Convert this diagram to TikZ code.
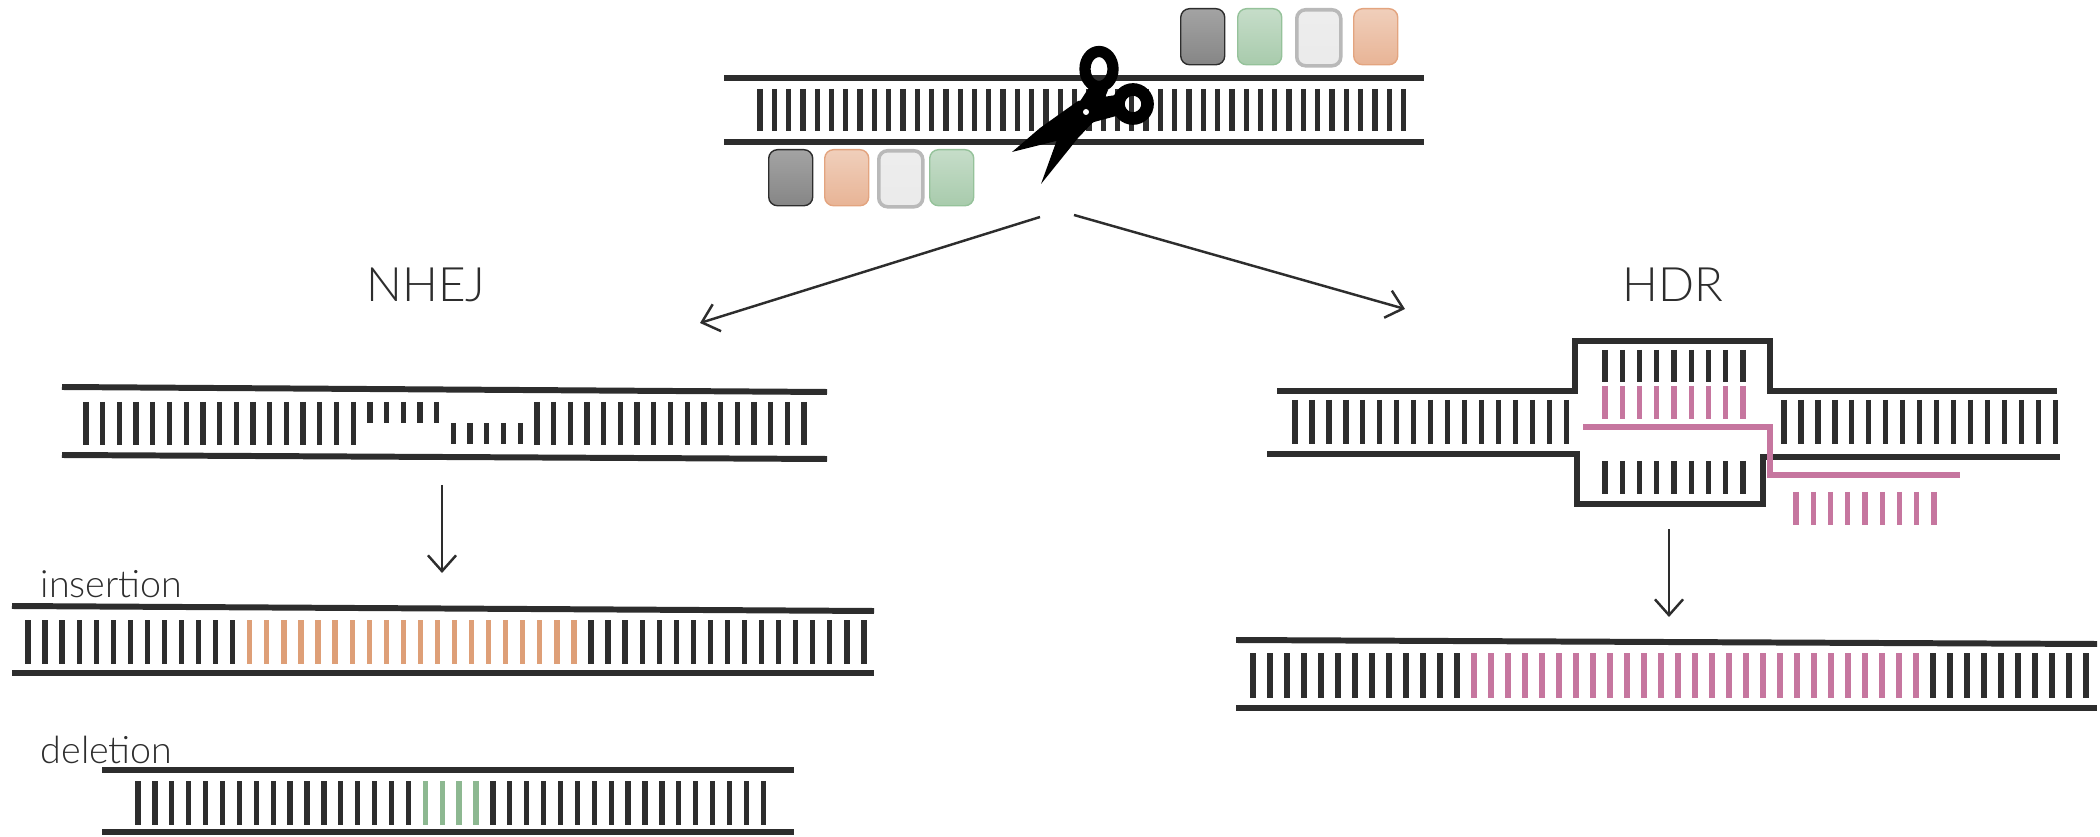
\documentclass[tikz,border=0pt]{standalone}
\usepackage{fontspec}
\setmainfont{Lato Light}
\usetikzlibrary{arrows.meta}
\definecolor{dna}{HTML}{2D2D2D}
\definecolor{ins}{HTML}{DE9F77}
\definecolor{donor}{HTML}{C6769F}
\definecolor{del}{HTML}{8DB891}
\begin{document}
\begin{tikzpicture}[
x=0.01cm,y=-0.01cm,
strand/.style={line width=1.7pt,draw=dna},
base/.style={line width=1.5pt,draw=dna},
donorbase/.style={base,draw=donor},
block/.style={rounded corners=2.5pt,minimum width=0.44cm,minimum height=0.56cm,anchor=north west,inner sep=0,line width=0.4pt},
gblock/.style={block,top color=gray!72,bottom color=gray!95,draw=dna},
mblock/.style={block,top color={rgb,255:red,198;green,221;blue,201},bottom color={rgb,255:red,168;green,203;blue,172},draw={rgb,255:red,149;green,194;blue,154}},
wblock/.style={block,top color=gray!14,bottom color=gray!16,draw=gray!55,line width=1pt},
oblock/.style={block,top color={rgb,255:red,240;green,207;blue,187},bottom color={rgb,255:red,232;green,180;blue,150},draw={rgb,255:red,227;green,164;blue,127}},
lbl/.style={inner sep=0,text=dna},
arr/.style={line width=0.7pt,draw=dna,-{Straight Barb[length=4.5pt,width=8pt]}}
]
\useasboundingbox (0,0) rectangle (2100,837);

\draw[strand] (724,78) -- (1424,78);
\draw[strand] (724,142) -- (1424,142);
\foreach \i in {0,...,45} \draw[base] ({760+14.3*\i},89) -- ++(0,42);

\node[gblock] (g1) at (1180,8) {};
\node[mblock] (m1) at (1237,8) {};
\node[wblock] (w1) at (1295,8) {};
\node[oblock] (o1) at (1353,8) {};
\node[gblock] (g2) at (768,149) {};
\node[oblock] (o2) at (824,149) {};
\node[wblock] (w2) at (877,149) {};
\node[mblock] (m2) at (929,149) {};

\fill[black] (1090,86) -- (1108,90) -- (1097,118) -- (1078,138) -- (1041,184) -- (1058,137) -- (1077,106) -- cycle;
\fill[black] (1116,95) -- (1120,115) -- (1094,122) -- (1060,140) -- (1012,152) -- (1040,128) -- (1078,101) -- cycle;
\draw[black,line width=3.2pt] (1099,69) ellipse [x radius=0.14cm,y radius=0.175cm];
\draw[black,line width=3.6pt] (1133,104) circle [radius=0.145cm];
\fill[white] (1086,112) circle [radius=0.03cm];

\coordinate (cutL) at (1040,217);
\coordinate (cutR) at (1074,215);
\coordinate (nhejIn) at (700,323);
\coordinate (hdrIn) at (1405,309);
\draw[arr] (cutL) -- (nhejIn);
\draw[arr] (cutR) -- (hdrIn);

\node[lbl,font=\fontsize{13.5}{16}\selectfont] (nhej) at (426,285) {NHEJ};
\node[lbl,font=\fontsize{13.5}{16}\selectfont] (hdr) at (1673,285) {HDR};

\draw[strand] (62,387) -- (827,392);
\draw[strand] (62,455) -- (827,459);
\foreach \i in {0,...,16,27,28,...,43} \draw[base] ({86+16.7*\i},402) -- ++(0,43);
\foreach \i in {17,...,21} \draw[base] ({86+16.7*\i},402) -- ++(0,21);
\foreach \i in {22,...,26} \draw[base] ({86+16.7*\i},423) -- ++(0,21);

\coordinate (nhejOut) at (442,485);
\coordinate (insIn) at (442,573);
\draw[arr] (nhejOut) -- (insIn);

\node[lbl,anchor=base west,font=\fontsize{10.7}{13}\selectfont] (insl) at (40,597) {insertion};
\draw[strand] (12,606) -- (874,611);
\draw[strand] (12,673) -- (874,673);
\foreach \i in {0,...,12,33,34,...,49} \draw[base] ({28+17.06*\i},620) -- ++(0,44);
\foreach \i in {13,...,32} \draw[base,draw=ins] ({28+17.06*\i},620) -- ++(0,44);

\node[lbl,anchor=base west,font=\fontsize{10.7}{13}\selectfont] (dell) at (40,763) {deletion};
\draw[strand] (102,770) -- (794,770);
\draw[strand] (102,832) -- (794,832);
\foreach \i in {0,...,16,21,22,...,37} \draw[base] ({138+16.9*\i},781) -- ++(0,44);
\foreach \i in {17,...,20} \draw[base,draw=del] ({138+16.9*\i},781) -- ++(0,44);

\draw[strand] (1277,391) -- (1575,391) -- (1575,341) -- (1770,341) -- (1770,391) -- (2057,391);
\draw[strand] (1267,454) -- (1577,454) -- (1577,504) -- (1763,504) -- (1763,457) -- (2060,457);
\foreach \i in {0,...,16} {
  \draw[base] ({1295+16.95*\i},400) -- ++(0,44);
  \draw[base] ({1784+16.95*\i},400) -- ++(0,44);
}
\foreach \i in {0,...,8} {
  \draw[base] ({1605+17.25*\i},350) -- ++(0,32);
  \draw[donorbase] ({1605+17.25*\i},386) -- ++(0,33);
  \draw[base] ({1605+17.25*\i},461) -- ++(0,33);
  \draw[donorbase] ({1796+17.25*\i},492) -- ++(0,33);
}
\draw[strand,draw=donor] (1583,427) -- (1770,427) -- (1770,475) -- (1960,475);

\coordinate (hdrOut) at (1669,529);
\coordinate (resIn) at (1669,617);
\draw[arr] (hdrOut) -- (resIn);

\draw[strand] (1236,640) -- (2097,644);
\draw[strand] (1236,708) -- (2097,708);
\foreach \i in {0,...,12,40,41,...,49} \draw[base] ({1253+17*\i},653) -- ++(0,45);
\foreach \i in {13,...,39} \draw[donorbase] ({1253+17*\i},653) -- ++(0,45);
\end{tikzpicture}
\end{document}
